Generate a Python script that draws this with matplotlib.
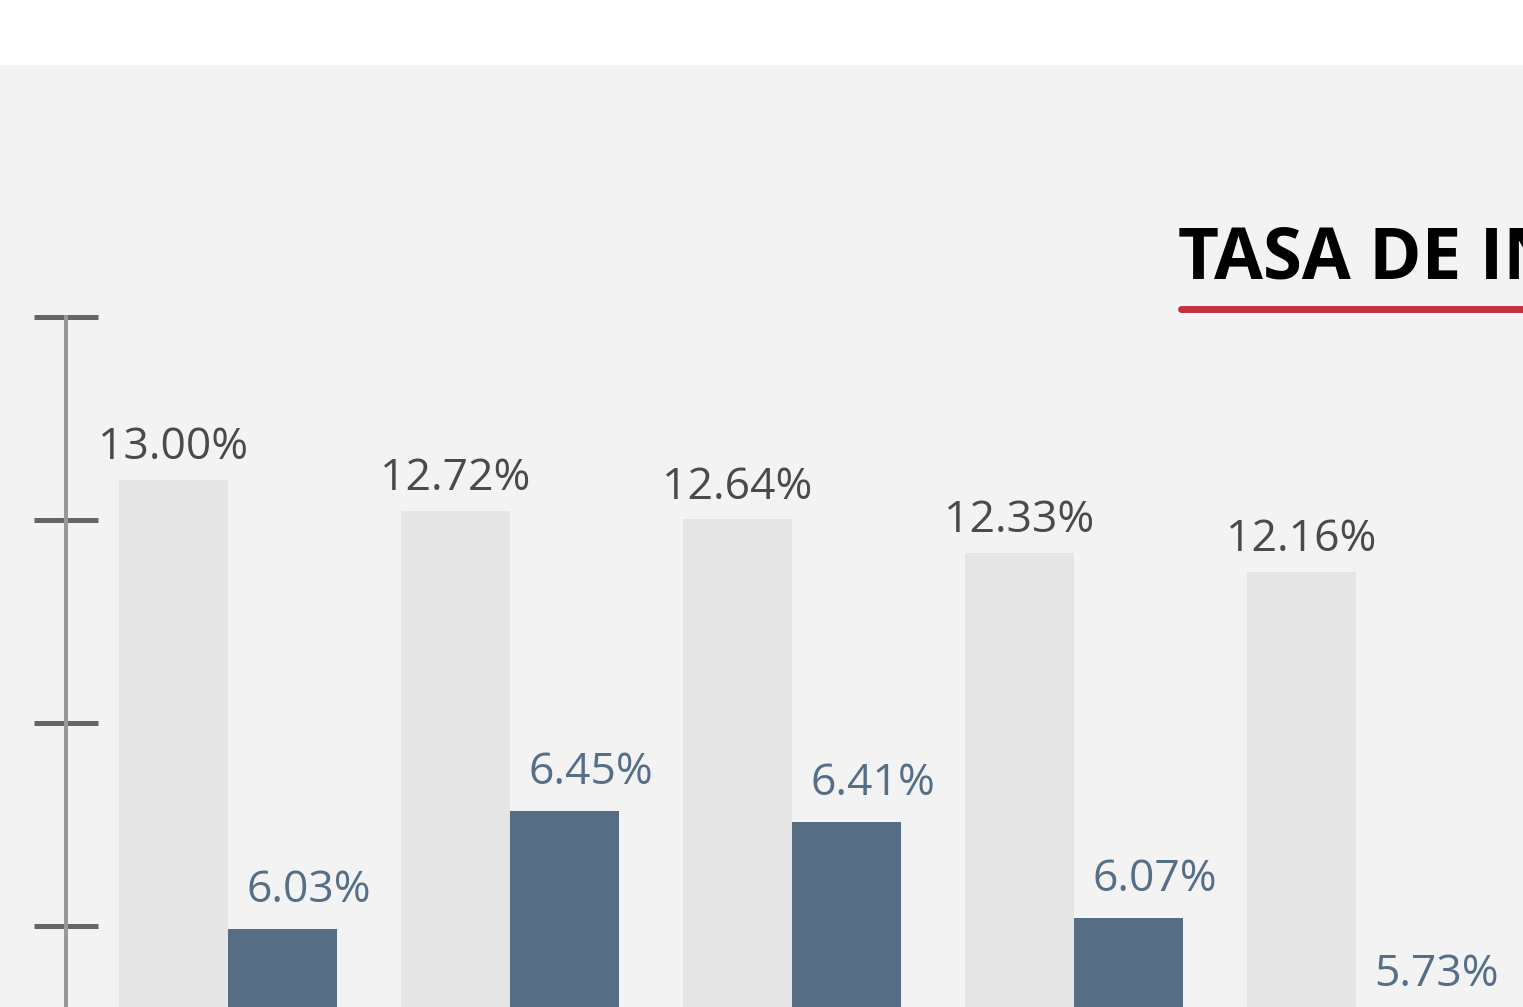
import matplotlib
matplotlib.use("Agg")
import numpy as np
import matplotlib.pyplot as plt
from matplotlib.lines import Line2D

# values
groups = [0, 1, 2, 3, 4]
serie_gris = [13.00, 12.72, 12.64, 12.33, 12.16]
serie_azul = [6.03, 6.45, 6.41, 6.07, 5.73]
titulo = "TASA DE INTERÉS"

plt.rcParams['font.family'] = ['Open Sans', 'DejaVu Sans']

W, H = 1523, 1007
fig = plt.figure(figsize=(W / 100, H / 100), dpi=100, facecolor='white')

# main plotting area (grey panel below the white band)
ax = fig.add_axes([0, 0, 1, (H - 65) / H])
ax.set_facecolor('#f3f3f3')
ax.set_xlim(-228 / 282, (W - 228) / 282)
ax.set_ylim(8.166, 16.809)
for s in ax.spines.values():
    s.set_visible(False)
ax.set_xticks([])
ax.set_yticks([])

ax2 = ax.twinx()
ax2.set_ylim(5.7507, 9.115)
ax2.patch.set_visible(False)
for s in ax2.spines.values():
    s.set_visible(False)
ax2.set_yticks([])

x = np.array(groups, dtype=float)
w = 109 / 282

ax.bar(x - w / 2, serie_gris, width=w, color='#e5e5e5', zorder=2)
ax2.bar(x + w / 2, serie_azul, width=w, color='#566d84', zorder=2)

for xi, v in zip(x, serie_gris):
    ax.annotate(f"{v:.2f}%", (xi - w / 2, v), xytext=(0, 15),
                textcoords='offset points', ha='center', va='baseline',
                fontsize=32, color='#4a4a4a', annotation_clip=False)

for xi, v in zip(x, serie_azul):
    ax2.annotate(f"{v:.2f}%", (xi + w / 2, v), xytext=(19, 19.5),
                 textcoords='offset points', ha='center', va='baseline',
                 fontsize=32, color='#566f88', annotation_clip=False)

# scale bar on the left
ax_s = fig.add_axes([34 / W, 0, 63 / W, 690 / H])
ax_s.patch.set_visible(False)
ax_s.set_ylim(-81 / 203, 3)
ax_s.set_xlim(0, 1)
for k in ['top', 'right', 'bottom']:
    ax_s.spines[k].set_visible(False)
ax_s.spines['left'].set_position(('axes', 0.5))
ax_s.spines['left'].set_color('#999999')
ax_s.spines['left'].set_linewidth(2.9)
ax_s.set_xticks([])
ax_s.set_yticks([0, 1, 2, 3])
ax_s.set_yticklabels([])
ax_s.tick_params(axis='y', direction='inout', length=45.4, width=3.6, color='#666666')

# title with red underline
fig.text(1178 / W, 1 - 278 / H, titulo, ha='left', va='baseline',
         fontsize=51, fontweight='bold', color='black')
fig.add_artist(Line2D([1181 / W, 1.2], [1 - 309 / H] * 2, lw=5,
                      color='#c3303f', solid_capstyle='round',
                      transform=fig.transFigure))

fig.savefig('out.png', dpi=100, facecolor='white')
